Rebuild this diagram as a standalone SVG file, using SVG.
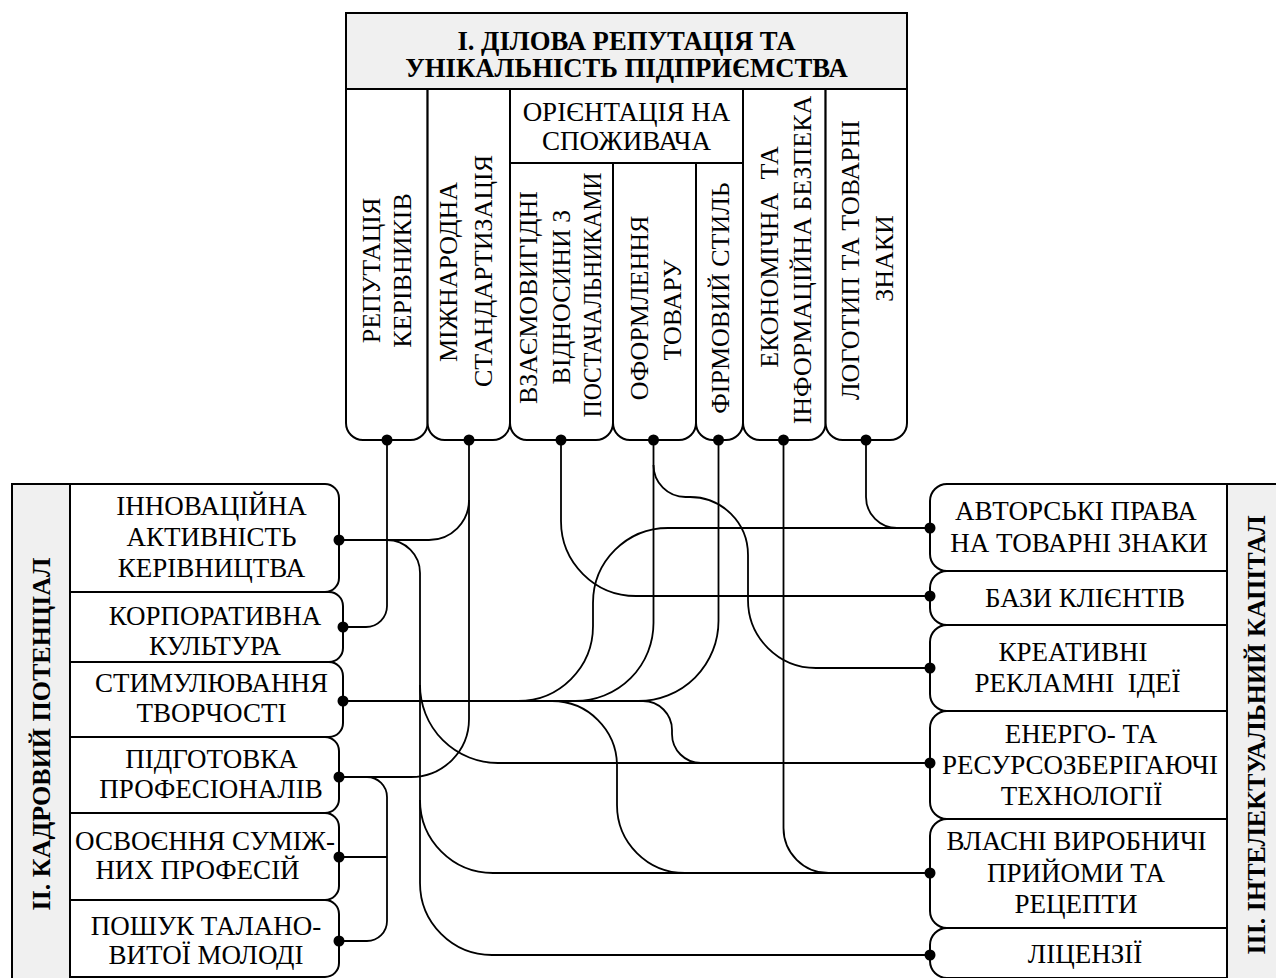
<svg xmlns="http://www.w3.org/2000/svg" width="1276" height="978" viewBox="0 0 1276 978">
<style>
.bx{fill:#fff;stroke:#000;stroke-width:2}
.gr{fill:#f0f0f0;stroke:#000;stroke-width:2}
.c{fill:none;stroke:#000;stroke-width:1.8}
.d{fill:#000}
text{font-family:"Liberation Serif","Times New Roman",serif;font-size:27px;text-anchor:middle;fill:#000}
.v{font-size:26px}
.b{font-weight:bold;font-size:26.7px}
.p{font-weight:bold;font-size:26px}
</style>
<rect width="1276" height="978" fill="#fff"/>

<g id="top">
<rect class="gr" x="346" y="13" width="561" height="76"/>
<text class="b" x="626.5" y="50">І. ДІЛОВА РЕПУТАЦІЯ ТА</text>
<text class="b" x="626.5" y="77">УНІКАЛЬНІСТЬ ПІДПРИЄМСТВА</text>
</g>
<g id="orient">
<rect class="bx" x="510" y="89" width="233" height="74"/>
<text x="626.5" y="121">ОРІЄНТАЦІЯ НА</text>
<text x="626.5" y="150">СПОЖИВАЧА</text>
</g>
<g id="col1">
<path class="bx" d="M346 89V423A17 17 0 0 0 363 440H410.6A17 17 0 0 0 427.6 423V89Z"/>
<text class="v" transform="translate(379.5 270.5) rotate(-90)">РЕПУТАЦІЯ</text>
<text class="v" transform="translate(411 270.5) rotate(-90)">КЕРІВНИКІВ</text>
</g>
<g id="col2">
<path class="bx" d="M427.6 89V423A17 17 0 0 0 444.6 440H493A17 17 0 0 0 510 423V89Z"/>
<text class="v" transform="translate(457 272) rotate(-90)">МІЖНАРОДНА</text>
<text class="v" transform="translate(492 271) rotate(-90)">СТАНДАРТИЗАЦІЯ</text>
</g>
<g id="col3">
<path class="bx" d="M510 163V423A17 17 0 0 0 527 440H596A17 17 0 0 0 613 423V163Z"/>
<text class="v" transform="translate(537 297.5) rotate(-90)" textLength="213" lengthAdjust="spacingAndGlyphs">ВЗАЄМОВИГІДНІ</text>
<text class="v" transform="translate(569.5 297) rotate(-90)">ВІДНОСИНИ З</text>
<text class="v" transform="translate(600.5 295) rotate(-90)" textLength="245" lengthAdjust="spacingAndGlyphs">ПОСТАЧАЛЬНИКАМИ</text>
</g>
<g id="col4">
<path class="bx" d="M613 163V423A17 17 0 0 0 630 440H679A17 17 0 0 0 696 423V163Z"/>
<text class="v" transform="translate(647.5 308) rotate(-90)">ОФОРМЛЕННЯ</text>
<text class="v" transform="translate(680.5 310) rotate(-90)">ТОВАРУ</text>
</g>
<g id="col5">
<path class="bx" d="M696 163V423A17 17 0 0 0 713 440H726A17 17 0 0 0 743 423V163Z"/>
<text class="v" transform="translate(729 298) rotate(-90)">ФІРМОВИЙ СТИЛЬ</text>
</g>
<g id="col6">
<path class="bx" d="M743 89V423A17 17 0 0 0 760 440H808.6A17 17 0 0 0 825.6 423V89Z"/>
<text class="v" transform="translate(777.5 257) rotate(-90)" xml:space="preserve">ЕКОНОМІЧНА  ТА</text>
<text class="v" transform="translate(810.5 260) rotate(-90)">ІНФОРМАЦІЙНА БЕЗПЕКА</text>
</g>
<g id="col7">
<path class="bx" d="M825.6 89V423A17 17 0 0 0 842.6 440H890A17 17 0 0 0 907 423V89Z"/>
<text class="v" transform="translate(859 260) rotate(-90)">ЛОГОТИП ТА ТОВАРНІ</text>
<text class="v" transform="translate(892.5 258.5) rotate(-90)">ЗНАКИ</text>
</g>

<g id="leftPanel">
<rect class="gr" x="12" y="484" width="58" height="510"/>
<text class="p" transform="translate(50 734) rotate(-90)">ІІ. КАДРОВИЙ ПОТЕНЦІАЛ</text>
</g>
<g id="l1">
<path class="bx" d="M70 484H325A14 14 0 0 1 339 498V578A14 14 0 0 1 325 592H70Z"/>
<text x="211.5" y="515">ІННОВАЦІЙНА</text>
<text x="211.5" y="545.5">АКТИВНІСТЬ</text>
<text x="211.5" y="576.5">КЕРІВНИЦТВА</text>
</g>
<g id="l2">
<path class="bx" d="M70 592H329A14 14 0 0 1 343 606V648A14 14 0 0 1 329 662H70Z"/>
<text x="215" y="625">КОРПОРАТИВНА</text>
<text x="215" y="655">КУЛЬТУРА</text>
</g>
<g id="l3">
<path class="bx" d="M70 662H329A14 14 0 0 1 343 676V723A14 14 0 0 1 329 737H70Z"/>
<text x="211.5" y="691.5">СТИМУЛЮВАННЯ</text>
<text x="211.5" y="722">ТВОРЧОСТІ</text>
</g>
<g id="l4">
<path class="bx" d="M70 737H325A14 14 0 0 1 339 751V799A14 14 0 0 1 325 813H70Z"/>
<text x="211.5" y="767.5">ПІДГОТОВКА</text>
<text x="211" y="798">ПРОФЕСІОНАЛІВ</text>
</g>
<g id="l5">
<path class="bx" d="M70 813H325A14 14 0 0 1 339 827V886A14 14 0 0 1 325 900H70Z"/>
<text x="205" y="849.5">ОСВОЄННЯ СУМІЖ-</text>
<text x="197.5" y="879">НИХ ПРОФЕСІЙ</text>
</g>
<g id="l6">
<path class="bx" d="M70 900H325A14 14 0 0 1 339 914V963A14 14 0 0 1 325 977H70Z"/>
<text x="206" y="935">ПОШУК ТАЛАНО-</text>
<text x="206" y="963.5">ВИТОЇ МОЛОДІ</text>
</g>

<g id="rightPanel">
<rect class="gr" x="1227" y="484" width="60" height="510"/>
<text class="p" transform="translate(1265 735) rotate(-90)">ІІІ. ІНТЕЛЕКТУАЛЬНИЙ КАПІТАЛ</text>
</g>
<g id="r1">
<path class="bx" d="M1227 484H947A17 17 0 0 0 930 501V554A17 17 0 0 0 947 571H1227Z"/>
<text x="1076" y="520">АВТОРСЬКІ ПРАВА</text>
<text x="1079" y="551.5">НА ТОВАРНІ ЗНАКИ</text>
</g>
<g id="r2">
<path class="bx" d="M1227 571H947A17 17 0 0 0 930 588V608A17 17 0 0 0 947 625H1227Z"/>
<text x="1085" y="606.5">БАЗИ КЛІЄНТІВ</text>
</g>
<g id="r3">
<path class="bx" d="M1227 625H947A17 17 0 0 0 930 642V694A17 17 0 0 0 947 711H1227Z"/>
<text x="1073" y="660.5">КРЕАТИВНІ</text>
<text x="1077.5" y="691.5" xml:space="preserve">РЕКЛАМНІ  ІДЕЇ</text>
</g>
<g id="r4">
<path class="bx" d="M1227 711H947A17 17 0 0 0 930 728V802A17 17 0 0 0 947 819H1227Z"/>
<text x="1081" y="743">ЕНЕРГО- ТА</text>
<text x="1080" y="774">РЕСУРСОЗБЕРІГАЮЧІ</text>
<text x="1081.5" y="804.5">ТЕХНОЛОГІЇ</text>
</g>
<g id="r5">
<path class="bx" d="M1227 819H947A17 17 0 0 0 930 836V911A17 17 0 0 0 947 928H1227Z"/>
<text x="1076.5" y="850">ВЛАСНІ ВИРОБНИЧІ</text>
<text x="1076" y="881.5">ПРИЙОМИ ТА</text>
<text x="1076" y="912.5">РЕЦЕПТИ</text>
</g>
<g id="r6">
<path class="bx" d="M1227 928H947A17 17 0 0 0 930 945V961A17 17 0 0 0 947 978H1227Z"/>
<text x="1085" y="962.5">ЛІЦЕНЗІЇ</text>
</g>

<g id="connectors">
<path class="c" d="M387 440V606A21 21 0 0 1 366 627H343"/>
<path class="c" d="M469 440V500A40 40 0 0 1 429 540H339"/>
<path class="c" d="M469 500V719A58 58 0 0 1 411 777H339"/>
<path class="c" d="M339 540H387A33 33 0 0 1 420 573V685A78 78 0 0 0 498 763H930"/>
<path class="c" d="M420 685V800A73 73 0 0 0 493 873H930"/>
<path class="c" d="M420 800V883A72 72 0 0 0 492 955H930"/>
<path class="c" d="M339 777H367A20 20 0 0 1 387 797V921A20 20 0 0 1 367 941H339"/>
<path class="c" d="M339 857H387"/>
<path class="c" d="M343 701H643A29 29 0 0 1 672 730V734A29 29 0 0 0 701 763H930"/>
<path class="c" d="M718.5 440V621A80 80 0 0 1 638.5 701"/>
<path class="c" d="M653.5 440V623A78 78 0 0 1 575.5 701"/>
<path class="c" d="M653.5 465A32 32 0 0 0 685.5 497H690A58 58 0 0 1 748 555V600A68 68 0 0 0 816 668H930"/>
<path class="c" d="M561 440V521A75 75 0 0 0 636 596H930"/>
<path class="c" d="M783.5 440V828A45 45 0 0 0 828.5 873H930"/>
<path class="c" d="M866 440V497A31 31 0 0 0 897 528H930"/>
<path class="c" d="M518 701A75 75 0 0 0 593 626V603A75 75 0 0 1 668 528H930"/>
<path class="c" d="M552 701A65 65 0 0 1 617 766V805A68 68 0 0 0 685 873H930"/>
<g class="d">
<circle cx="387" cy="440" r="5.5"/><circle cx="469" cy="440" r="5.5"/><circle cx="561" cy="440" r="5.5"/><circle cx="653.5" cy="440" r="5.5"/><circle cx="718.5" cy="440" r="5.5"/><circle cx="783.5" cy="440" r="5.5"/><circle cx="866" cy="440" r="5.5"/>
<circle cx="339" cy="540" r="5.5"/><circle cx="343" cy="627" r="5.5"/><circle cx="343" cy="701" r="5.5"/><circle cx="339" cy="777" r="5.5"/><circle cx="339" cy="857" r="5.5"/><circle cx="339" cy="941" r="5.5"/>
<circle cx="930" cy="528" r="5.5"/><circle cx="930" cy="596" r="5.5"/><circle cx="930" cy="668" r="5.5"/><circle cx="930" cy="763" r="5.5"/><circle cx="930" cy="873" r="5.5"/><circle cx="930" cy="955" r="5.5"/>
</g>
</g>
</svg>
